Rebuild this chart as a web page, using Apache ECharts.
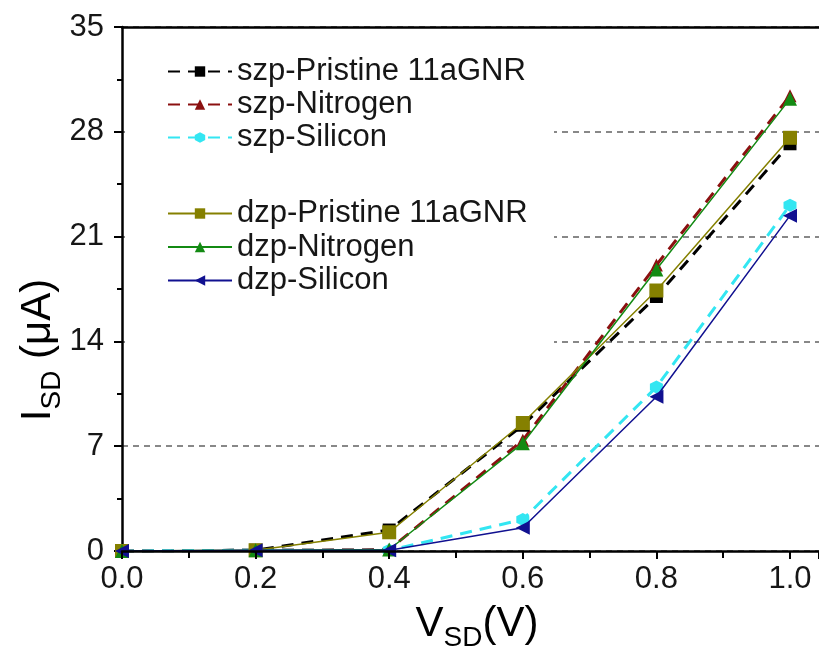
<!DOCTYPE html>
<html>
  <head>
    <meta charset="utf-8" />
    <title>I-V curves</title>
    <script src="https://cdn.jsdelivr.net/npm/echarts@6/dist/echarts.min.js"></script>
    <style>
      html, body, #main {
        padding: 0;
        margin: 0;
        width: 819px;
        height: 656px;
        background: #fff;
      }
    </style>
  </head>
  <body>
    <div id="main"></div>
    <script>
      // bias voltages (V)
      var vsd = [0.0, 0.2, 0.4, 0.6, 0.8, 1.0];
      // currents (uA)
      var szpPristine = [0.0, 0.05, 1.4, 8.4, 17.0, 27.2];
      var szpNitrogen = [0.0, 0.05, 0.1, 7.4, 19.1, 30.4];
      var szpSilicon = [0.0, 0.05, 0.05, 2.1, 10.95, 23.1];
      var dzpPristine = [0.0, 0.05, 1.25, 8.55, 17.4, 27.6];
      var dzpNitrogen = [0.0, 0.05, 0.1, 7.2, 18.8, 30.2];
      var dzpSilicon = [0.0, 0.05, 0.05, 1.55, 10.3, 22.4];
      var yTicks = [0, 7, 14, 21, 28, 35];

      var font = "Liberation Sans, Arial, sans-serif";
      var ink = "#161616";
      var hexagon = "path://M0,-10L8.66,-5L8.66,5L0,10L-8.66,5L-8.66,-5Z";

      function pairs(arr) {
        return vsd.map(function (v, i) { return [v, arr[i]]; });
      }

      function dashed(name, data, color, symbol) {
        return {
          name: name,
          type: "line",
          data: pairs(data),
          symbol: symbol,
          symbolSize: 13,
          itemStyle: { color: color },
          lineStyle: { color: color, width: 3, type: [12, 8] },
          z: 2
        };
      }

      function solid(name, data, color, symbol, rotate) {
        return {
          name: name,
          type: "line",
          data: pairs(data),
          symbol: symbol,
          symbolSize: 14,
          symbolRotate: rotate || 0,
          itemStyle: { color: color },
          lineStyle: { color: color, width: 1.5 },
          z: 3
        };
      }

      var chart = echarts.init(document.getElementById("main"));
      var legendText = { fontFamily: font, fontSize: 31, color: ink };
      var titleRich = {
        m: { fontFamily: font, fontSize: 42, color: ink },
        s: { fontFamily: font, fontSize: 28, color: ink, padding: [28, 0, 0, 0] }
      };

      var option = {
        animation: false,
        backgroundColor: "#fff",
        grid: { left: 122, right: 0, top: 27, bottom: 105, outerBoundsMode: "none" },
        graphic: [
          {
            // legend box hides the grid lines behind it
            type: "rect",
            z: 1,
            shape: { x: 125, y: 30, width: 429, height: 324 },
            style: { fill: "#fff" }
          },
          {
            type: "text",
            x: 477, y: 624,
            style: {
              text: "{m|V}{s|SD}{m|(V)}",
              rich: titleRich,
              align: "center", verticalAlign: "middle"
            }
          },
          {
            type: "text",
            x: 38, y: 350,
            rotation: Math.PI / 2,
            style: {
              text: "{m|I}{s|SD}{m| (μA)}",
              rich: titleRich,
              align: "center", verticalAlign: "middle"
            }
          }
        ],
        legend: [
          {
            data: ["szp-Pristine 11aGNR", "szp-Nitrogen", "szp-Silicon"],
            orient: "vertical", left: 162, top: 51,
            itemWidth: 64, itemHeight: 13, itemGap: 2,
            textStyle: legendText
          },
          {
            data: ["dzp-Pristine 11aGNR", "dzp-Nitrogen", "dzp-Silicon"],
            orient: "vertical", left: 162, top: 193,
            itemWidth: 64, itemHeight: 13, itemGap: 2.5,
            textStyle: legendText
          }
        ],
        xAxis: [
          {
            type: "value",
            min: 0, max: 1.0434, interval: 0.2,
            z: 5,
            axisLine: { show: true, onZero: false, lineStyle: { color: "#000", width: 2.5 } },
            axisTick: { show: true, length: 8, lineStyle: { color: "#000", width: 2 } },
            minorTick: { show: true, splitNumber: 2, length: 7, lineStyle: { color: "#000", width: 2 } },
            splitLine: { show: false },
            axisLabel: {
              fontFamily: font, fontSize: 31, color: ink, margin: 13,
              showMaxLabel: false,
              formatter: function (v) { return v.toFixed(1); }
            }
          },
          {
            // top frame line
            type: "value",
            position: "top",
            min: 0, max: 1.0434,
            z: 5,
            axisLine: { show: true, onZero: false, lineStyle: { color: "#000", width: 2.5 } },
            axisTick: { show: false },
            axisLabel: { show: false },
            splitLine: { show: false }
          }
        ],
        yAxis: {
          type: "value",
          min: yTicks[0], max: yTicks[yTicks.length - 1], interval: 7,
          axisLine: { show: true, onZero: false, lineStyle: { color: "#000", width: 2.5 } },
          axisTick: { show: true, length: 8, lineStyle: { color: "#000", width: 2 } },
          minorTick: { show: true, splitNumber: 2, length: 5, lineStyle: { color: "#000", width: 2 } },
          splitLine: { show: true, lineStyle: { color: "#888", width: 2, type: [6, 5] } },
          axisLabel: { fontFamily: font, fontSize: 31, color: ink, margin: 18 }
        },
        series: [
          dashed("szp-Pristine 11aGNR", szpPristine, "#000000", "rect"),
          dashed("szp-Nitrogen", szpNitrogen, "#8b1010", "triangle"),
          dashed("szp-Silicon", szpSilicon, "#33e6f2", hexagon),
          solid("dzp-Pristine 11aGNR", dzpPristine, "#858000", "rect"),
          solid("dzp-Nitrogen", dzpNitrogen, "#138a13", "triangle"),
          solid("dzp-Silicon", dzpSilicon, "#101090", "triangle", 90)
        ]
      };

      chart.setOption(option);
    </script>
  </body>
</html>
